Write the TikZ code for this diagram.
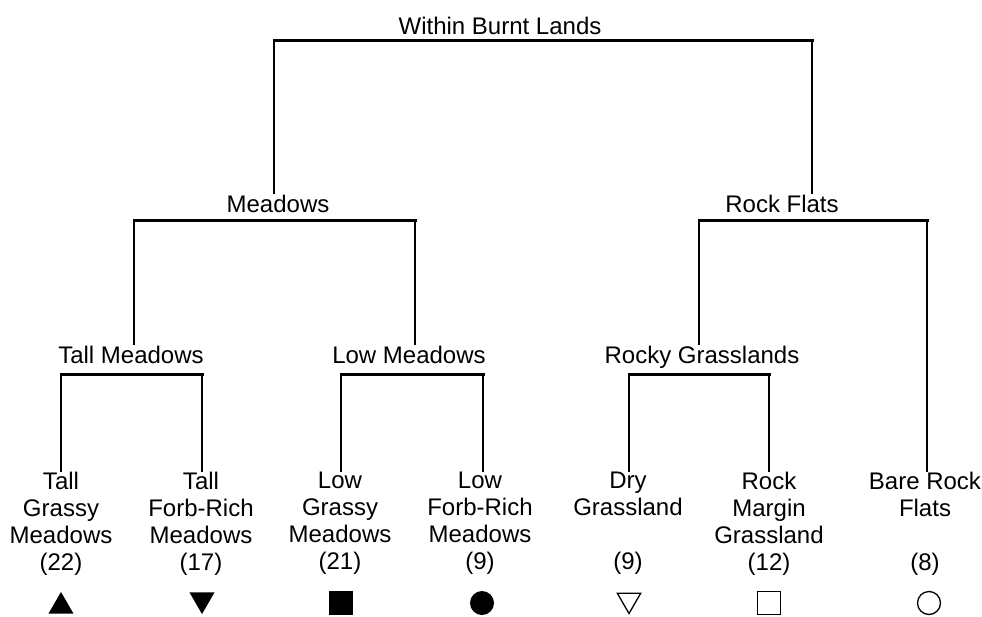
\documentclass[tikz,border=0pt]{standalone}
\usepackage{fontspec}
\setmainfont{Liberation Sans}
\usetikzlibrary{shapes.geometric}
\begin{document}
\begin{tikzpicture}[x=1pt,y=-1pt,
  lbl/.style={font=\fontsize{24}{27}\selectfont, inner sep=0pt, anchor=base},
  leaf/.style={font=\fontsize{24}{27}\selectfont, inner sep=0pt, anchor=north, align=center},
  hbar/.style={line width=3pt, line cap=rect},
  vline/.style={line width=1.9pt},
  tri/.style={regular polygon, regular polygon sides=3, minimum size=28.9pt, inner sep=0pt, outer sep=0pt},
  otri/.style={regular polygon, regular polygon sides=3, minimum size=27pt, inner sep=0pt, draw, line width=1.3pt, shape border rotate=180},
  sq/.style={rectangle, minimum size=24pt, inner sep=0pt, fill},
  osq/.style={rectangle, minimum size=23pt, inner sep=0pt, draw, line width=1.3pt},
  dot/.style={circle, minimum size=24pt, inner sep=0pt, fill},
  odot/.style={circle, minimum size=23pt, inner sep=0pt, draw, line width=1.3pt}
]
\useasboundingbox (0,0) rectangle (982,616);
\fill[white] (0,0) rectangle (982,616);

% internal labels
\node[lbl] (root) at (500,34) {Within Burnt Lands};
\node[lbl] (meadows) at (278,212) {Meadows};
\node[lbl] (rockflats) at (782,212) {Rock Flats};
\node[lbl] (tallm) at (131,363) {Tall Meadows};
\node[lbl] (lowm) at (409,363) {Low Meadows};
\node[lbl] (rockyg) at (702,363) {Rocky Grasslands};

% leaves
\node[leaf] (tgm) at (61,472) {Tall\\Grassy\\Meadows\\(22)};
\node[leaf] (tfm) at (201,472) {Tall\\Forb-Rich\\Meadows\\(17)};
\node[leaf] (lgm) at (340,472) {Low\\Grassy\\Meadows\\(21)};
\node[leaf] (lfm) at (480,472) {Low\\Forb-Rich\\Meadows\\(9)};
\node[leaf] (dg) at (628,472) {Dry\\Grassland\\[27pt](9)};
\node[leaf] (rmg) at (769,472) {Rock\\Margin\\Grassland\\(12)};
\node[leaf] (brf) at (925,472) {Bare Rock\\Flats\\[27pt](8)};

% symbols
\node[tri, fill] (s1) at (61,606.4) {};
\node[tri, fill, shape border rotate=180] (s2) at (202,599.6) {};
\node[sq] (s3) at (341,603) {};
\node[dot] (s4) at (482,603) {};
\node[otri] (s5) at (629,600) {};
\node[osq] (s6) at (769,603) {};
\node[odot] (s7) at (929,603) {};

% joints
\coordinate (rootL) at (274,40);
\coordinate (rootR) at (812,40);
\coordinate (mL) at (134,220);
\coordinate (mR) at (415,220);
\coordinate (rL) at (699,220);
\coordinate (rR) at (927,220);
\coordinate (tL) at (61,374);
\coordinate (tR) at (202,374);
\coordinate (lL) at (341,374);
\coordinate (lR) at (483,374);
\coordinate (gL) at (629,374);
\coordinate (gR) at (769,374);

% bars
\draw[hbar] (rootL) -- (rootR);
\draw[hbar] (mL) -- (mR);
\draw[hbar] (rL) -- (rR);
\draw[hbar] (tL) -- (tR);
\draw[hbar] (lL) -- (lR);
\draw[hbar] (gL) -- (gR);

% verticals
\draw[vline] (rootL) -- (rootL |- meadows.north);
\draw[vline] (rootR) -- (rootR |- rockflats.north);
\draw[vline] (mL) -- (mL |- tallm.north);
\draw[vline] (mR) -- (mR |- lowm.north);
\draw[vline] (rL) -- (rL |- rockyg.north);
\draw[vline] (rR) -- (rR |- brf.north);
\draw[vline] (tL) -- (tL |- tgm.north);
\draw[vline] (tR) -- (tR |- tfm.north);
\draw[vline] (lL) -- (lL |- lgm.north);
\draw[vline] (lR) -- (lR |- lfm.north);
\draw[vline] (gL) -- (gL |- dg.north);
\draw[vline] (gR) -- (gR |- rmg.north);
\end{tikzpicture}
\end{document}
